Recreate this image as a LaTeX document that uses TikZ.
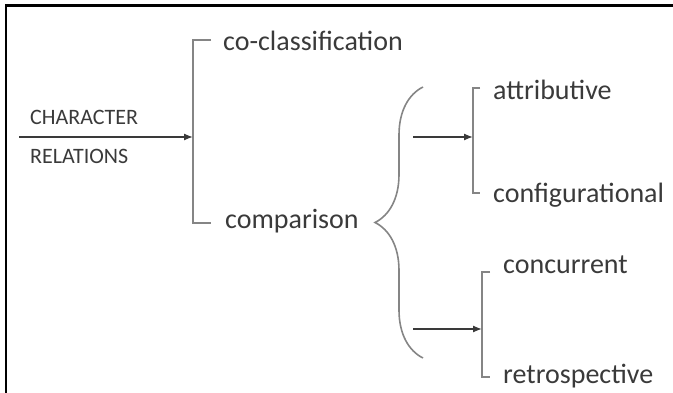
\documentclass[tikz,border=0pt]{standalone}
\usepackage{fontspec}
\setmainfont{Carlito}
\usetikzlibrary{arrows.meta,decorations.pathreplacing}
\definecolor{ink}{HTML}{3A3A3A}
\definecolor{rule}{HTML}{858585}

\begin{document}
\begin{tikzpicture}[x=1pt,y=-1pt,
  big/.style={anchor=base west,inner sep=0pt,text=ink,font=\fontsize{28}{30}\selectfont},
  small/.style={anchor=base west,inner sep=0pt,text=ink,font=\fontsize{22}{24}\selectfont},
  bracket/.style={draw=rule,line width=1.6pt},
  link/.style={draw=ink,line width=1.3pt,-{Latex[length=9pt,width=7pt]}}]
  \useasboundingbox (0,0) rectangle (673,393);
  \draw[line width=2.5pt] (6,393) -- (6,5.5) -- (673,5.5);

  \node[small] (char) at (30,125) {CHARACTER};
  \node[small] (rel) at (30,164) {RELATIONS};
  \node[big] (cocl) at (223,51) {co-classification};
  \node[big] (comp) at (225,229) {comparison};
  \node[big] (attr) at (493,100) {attributive};
  \node[big] (conf) at (493,203) {configurational};
  \node[big] (conc) at (503,273) {concurrent};
  \node[big] (retr) at (503,383) {retrospective};

  \draw[bracket] (211,40) -- (193,40) -- (193,223) -- (211,223);
  \draw[bracket] (480,88) -- (473,88) -- (473,193) -- (480,193);
  \draw[bracket] (490,272) -- (482,272) -- (482,377) -- (490,377);
  \draw[draw=rule,line width=1.6pt,decorate,decoration={brace,amplitude=48pt}]
    (423,358) coordinate (C) -- (423,87) coordinate (D);

  \coordinate (s1) at (19,137);
  \coordinate (b1) at (193,137);
  \coordinate (s2) at (413,137);
  \coordinate (b2) at (473,137);
  \coordinate (s3) at (413,329);
  \coordinate (b3) at (482,329);
  \draw[link] (s1) -- (b1);
  \draw[link] (s2) -- (b2);
  \draw[link] (s3) -- (b3);
\end{tikzpicture}
\end{document}
